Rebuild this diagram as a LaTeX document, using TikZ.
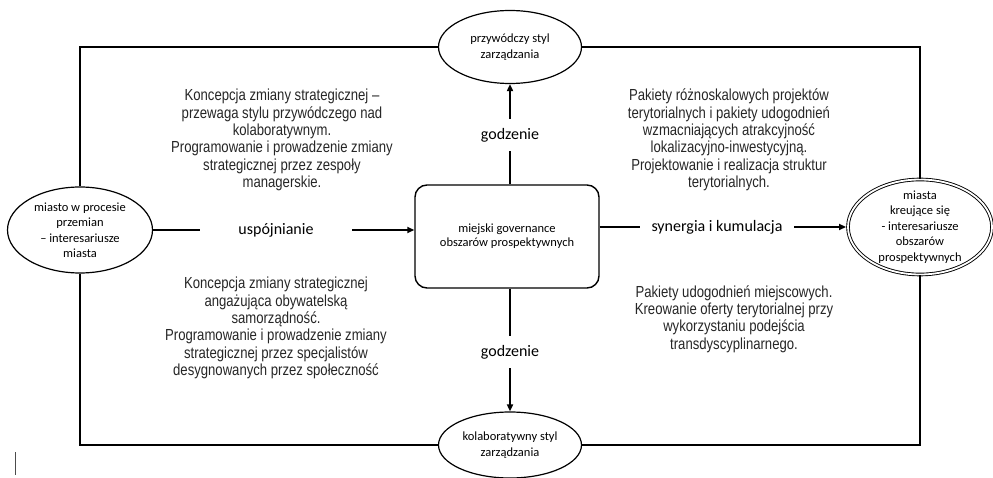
\documentclass[tikz,border=0pt]{standalone}
\usepackage{fontspec}
\setmainfont{Carlito}
\newfontfamily\narrowfont[FakeStretch=0.82]{Liberation Sans}
\usetikzlibrary{shapes.geometric,arrows.meta}
\begin{document}
\begin{tikzpicture}[x=1pt,y=-1pt,line width=1.7pt,
    stan/.style={ellipse,draw,line width=1.2pt,inner sep=0pt,align=center,
      font=\fontsize{12.5}{15.5}\selectfont},
    ramka/.style={rectangle,draw,rounded corners=12pt,line width=1.4pt,
      minimum width=184pt,minimum height=103pt,align=center,
      font=\fontsize{12.5}{14}\selectfont},
    relacja/.style={inner xsep=2pt,inner ysep=8.5pt,font=\fontsize{16}{19}\selectfont},
    opis/.style={align=center,text=black!85,font=\narrowfont\fontsize{16}{17.3}\selectfont}]
      \useasboundingbox (0,0) rectangle (993,478);
      \draw
        (510,47) node[stan,minimum width=143pt,minimum height=73pt] (lider){przywódczy styl\\zarządzania}
        (510,445) node[stan,minimum width=143pt,minimum height=66pt] (kolab){kolaboratywny styl\\zarządzania}
        (80,230) node[stan,minimum width=145pt,minimum height=86pt] (miasto){miasto w procesie\\przemian\\– interesariusze\\miasta}
        (920,227) node[stan,double,double distance=1.8pt,line width=0.9pt,inner ysep=-4pt,
          minimum width=144pt,minimum height=95pt] (miasta){miasta\\kreujące się\\- interesariusze\\obszarów\\prospektywnych}
        (507,236.5) node[ramka] (gov){miejski governance\\obszarów prospektywnych}
        (510,135) node[relacja] (godz1){godzenie}
        (510,352) node[relacja] (godz2){godzenie}
        (276,230) node[relacja,inner xsep=38pt,inner ysep=2pt] (spoj){uspójnianie}
        (717,227) node[relacja,inner xsep=11pt,inner ysep=2pt] (syn){synergia i kumulacja}
        (282,140) node[opis] (opis1){Koncepcja zmiany strategicznej –\\przewaga stylu przywódczego nad\\kolaboratywnym.\\Programowanie i prowadzenie zmiany\\strategicznej przez zespoły\\managerskie.}
        (276,328) node[opis] (opis2){Koncepcja zmiany strategicznej\\angażująca obywatelską\\samorządność.\\Programowanie i prowadzenie zmiany\\strategicznej przez specjalistów\\desygnowanych przez społeczność}
        (729,140) node[opis] (opis3){Pakiety różnoskalowych projektów\\terytorialnych i pakiety udogodnień\\wzmacniających atrakcyjność\\lokalizacyjno-inwestycyjną.\\Projektowanie i realizacja struktur\\terytorialnych.}
        (734,319) node[opis] (opis4){Pakiety udogodnień miejscowych.\\Kreowanie oferty terytorialnej przy\\wykorzystaniu podejścia\\transdyscyplinarnego.}
        (80,47) coordinate (lg)
        (920,47) coordinate (pg)
        (80,445) coordinate (ld)
        (920,445) coordinate (pd);
      \begin{scope}[-]
        \draw (lider) to (lg) to (miasto);
        \draw (miasto) to (ld) to (kolab);
        \draw (kolab) to (pd) to (miasta);
        \draw (miasta) to (pg) to (lider);
        \draw (godz1 |- gov.north) to (godz1);
        \draw (godz2 |- gov.south) to (godz2);
        \draw (miasto) to (spoj);
        \draw (syn -| gov.east) to (syn);
      \end{scope}
      \begin{scope}[-{Triangle[length=7pt,width=6pt]}]
        \draw (godz1) to (lider);
        \draw (godz2) to (kolab);
        \draw (spoj) to (spoj -| gov.west);
        \draw[shorten >=1.5pt] (syn) to (miasta);
      \end{scope}
      \draw[line width=1pt,black!70] (15,452) -- (15,475);
    \end{tikzpicture}
\end{document}
